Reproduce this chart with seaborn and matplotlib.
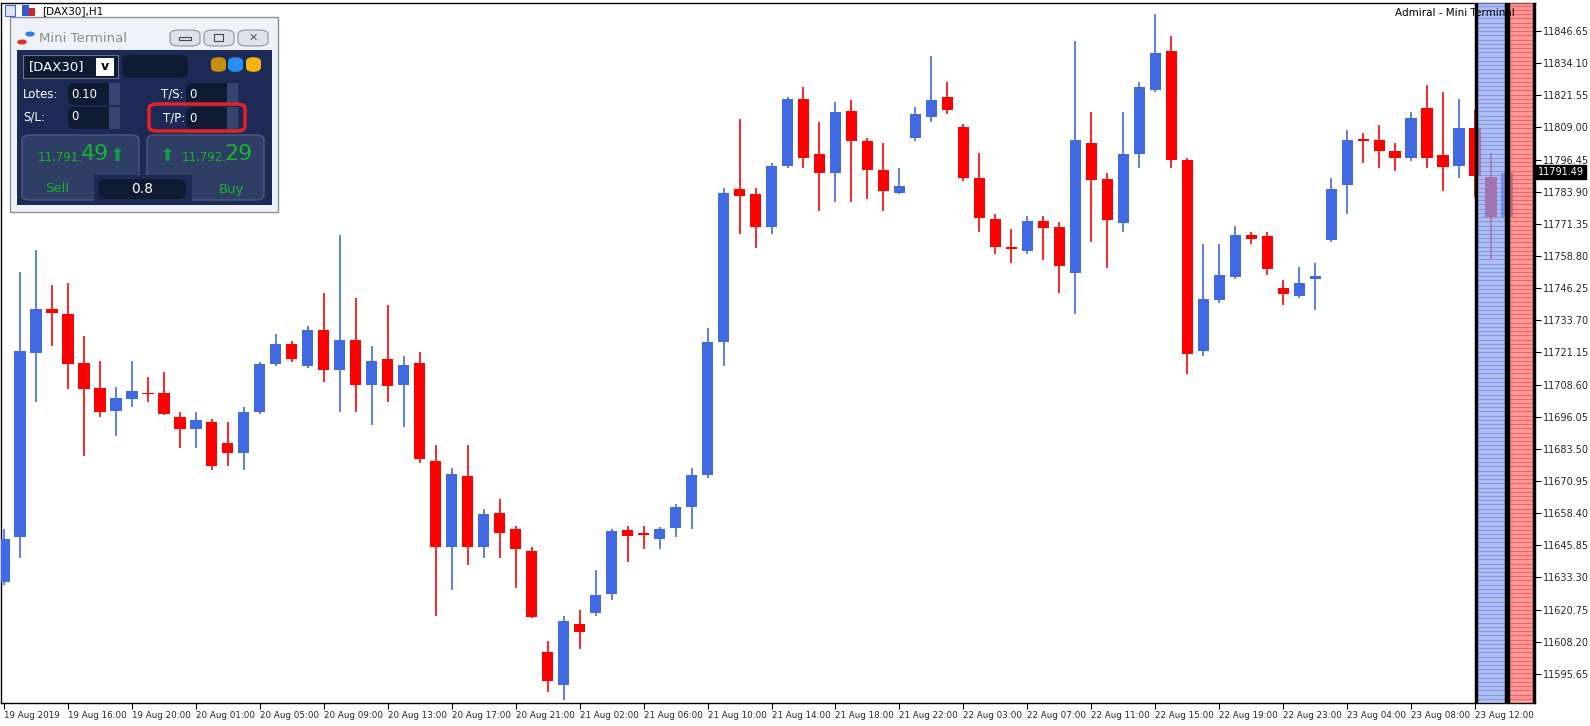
import numpy as np
import pandas as pd
import seaborn as sns
import matplotlib.pyplot as plt
from matplotlib.patches import Rectangle, FancyBboxPatch

# ----------------------------
# Data (DAX30 H1)
# ----------------------------
opens = [11631.5, 11649.0, 11720.8, 11738.3, 11736.3, 11716.9, 11707.3, 11698.2, 11703.0, 11705.4,
         11705.4, 11695.8, 11691.1, 11693.8, 11685.9, 11681.9, 11697.8, 11716.5, 11724.4, 11715.7,
         11730.0, 11714.1, 11726.0, 11708.5, 11718.5, 11708.5, 11716.9, 11678.8, 11645.0, 11672.8,
         11645.0, 11658.5, 11652.2, 11643.8, 11604.1, 11591.4, 11615.2, 11619.2, 11626.8, 11651.8,
         11650.6, 11648.2, 11652.6, 11660.9, 11673.2, 11725.2, 11784.8, 11783.2, 11770.1, 11793.9,
         11820.1, 11798.7, 11791.1, 11815.3, 11803.8, 11792.3, 11783.6, 11805.0, 11812.9, 11820.9,
         11809.0, 11789.1, 11773.2, 11762.1, 11760.9, 11772.4, 11770.1, 11752.2, 11803.0, 11788.7,
         11771.7, 11798.7, 11823.7, 11838.7, 11796.3, 11721.6, 11741.5, 11750.6, 11766.9, 11766.5,
         11746.2, 11743.1, 11749.8, 11764.9, 11786.7, 11804.2, 11804.2, 11799.8, 11797.1, 11816.5,
         11798.3, 11793.9, 11808.6, 11789.5, 11774.0]
closes = [11648.2, 11721.6, 11738.3, 11736.7, 11716.5, 11706.9, 11697.8, 11703.4, 11706.2, 11705.0,
          11697.0, 11691.1, 11694.6, 11676.8, 11681.9, 11697.8, 11716.5, 11724.4, 11718.5, 11730.0,
          11714.1, 11726.0, 11708.5, 11717.7, 11708.1, 11716.1, 11679.6, 11645.0, 11673.6, 11645.0,
          11658.1, 11650.6, 11644.2, 11618.0, 11593.0, 11616.4, 11612.1, 11626.4, 11651.4, 11649.4,
          11649.8, 11652.2, 11660.9, 11673.2, 11725.2, 11783.6, 11782.4, 11770.1, 11793.9, 11820.1,
          11797.1, 11791.1, 11814.9, 11803.8, 11792.3, 11784.0, 11786.3, 11814.1, 11819.7, 11815.7,
          11789.1, 11773.6, 11762.5, 11761.7, 11772.4, 11769.7, 11755.0, 11804.2, 11788.3, 11772.8,
          11798.7, 11824.9, 11837.9, 11796.3, 11720.4, 11741.9, 11751.4, 11766.9, 11765.3, 11753.8,
          11743.9, 11748.2, 11751.0, 11784.8, 11804.2, 11803.8, 11799.8, 11797.1, 11812.5, 11797.1,
          11793.5, 11808.6, 11789.9, 11774.0, 11791.1]
highs = [11652.2, 11752.6, 11761.3, 11747.4, 11748.2, 11727.6, 11717.7, 11707.7, 11717.7, 11711.7,
         11713.7, 11697.8, 11697.8, 11695.0, 11693.8, 11699.8, 11717.3, 11728.4, 11725.6, 11731.6,
         11744.3, 11766.9, 11742.3, 11723.6, 11739.5, 11719.7, 11721.2, 11685.1, 11676.0, 11685.1,
         11660.1, 11664.1, 11653.4, 11645.0, 11608.5, 11618.4, 11620.4, 11636.3, 11652.2, 11653.4,
         11653.4, 11653.0, 11662.1, 11676.0, 11730.8, 11785.2, 11812.2, 11785.2, 11795.1, 11820.9,
         11824.9, 11811.0, 11818.9, 11819.7, 11805.0, 11803.0, 11793.1, 11816.9, 11836.8, 11826.8,
         11810.2, 11799.0, 11775.2, 11769.3, 11774.4, 11774.4, 11772.1, 11842.7, 11814.9, 11791.1,
         11814.9, 11826.8, 11853.4, 11844.7, 11797.1, 11763.3, 11763.3, 11770.5, 11768.1, 11768.1,
         11749.4, 11754.6, 11756.2, 11789.1, 11808.2, 11807.0, 11809.8, 11803.0, 11814.9, 11825.7,
         11822.9, 11820.1, 11815.7, 11799.0, 11791.9]
lows = [11630.3, 11641.0, 11701.8, 11723.6, 11706.9, 11680.7, 11695.8, 11688.7, 11699.8, 11701.8,
        11696.6, 11683.9, 11683.9, 11675.2, 11676.8, 11675.2, 11697.0, 11715.7, 11717.3, 11714.9,
        11709.7, 11697.8, 11697.8, 11692.7, 11701.8, 11691.9, 11678.0, 11618.4, 11628.3, 11638.3,
        11641.0, 11641.0, 11629.1, 11617.6, 11588.6, 11585.5, 11605.3, 11618.4, 11624.4, 11639.5,
        11644.2, 11644.2, 11649.0, 11652.2, 11672.0, 11715.7, 11767.3, 11762.1, 11767.3, 11793.1,
        11793.1, 11776.4, 11780.0, 11780.0, 11781.2, 11776.4, 11783.2, 11803.8, 11811.0, 11814.1,
        11787.9, 11768.1, 11759.4, 11756.2, 11759.4, 11757.4, 11744.3, 11736.3, 11764.1, 11754.2,
        11768.1, 11793.1, 11822.9, 11793.1, 11712.9, 11719.7, 11740.3, 11749.8, 11763.3, 11751.4,
        11739.5, 11742.3, 11737.9, 11764.1, 11775.2, 11795.1, 11793.1, 11791.9, 11795.9, 11793.1,
        11784.0, 11789.1, 11782.0, 11757.4, 11773.2]

x_labels = ["19 Aug 2019", "19 Aug 16:00", "19 Aug 20:00", "20 Aug 01:00", "20 Aug 05:00",
            "20 Aug 09:00", "20 Aug 13:00", "20 Aug 17:00", "20 Aug 21:00", "21 Aug 02:00",
            "21 Aug 06:00", "21 Aug 10:00", "21 Aug 14:00", "21 Aug 18:00", "21 Aug 22:00",
            "22 Aug 03:00", "22 Aug 07:00", "22 Aug 11:00", "22 Aug 15:00", "22 Aug 19:00",
            "22 Aug 23:00", "23 Aug 04:00", "23 Aug 08:00", "23 Aug 12:00"]
y_ticks = [11846.65, 11834.10, 11821.55, 11809.00, 11796.45, 11783.90, 11771.35, 11758.80,
           11746.25, 11733.70, 11721.15, 11708.60, 11696.05, 11683.50, 11670.95, 11658.40,
           11645.85, 11633.30, 11620.75, 11608.20, 11595.65]
last_price = 11791.49

df = pd.DataFrame({"open": opens, "high": highs, "low": lows, "close": closes})
df["idx"] = np.arange(len(df))
df["up"] = df["close"] >= df["open"]

# ----------------------------
# Figure
# ----------------------------
W, H = 1590, 726
sns.set_theme(style="white")
plt.rcParams['font.family'] = ['DejaVu Sans']
fig = plt.figure(figsize=(W / 100, H / 100), dpi=100)
ax = fig.add_axes([1 / W, 1 - 703 / H, 1534 / W, 700 / H])
YLO, YHI = 11584.25, 11857.6

BLUE, RED = "#4169e1", "#ff0000"
colors = np.where(df["up"], BLUE, RED)
ax.vlines(df["idx"], df["low"], df["high"], colors=colors, linewidth=1.2, zorder=2)
bottoms = np.minimum(df["open"], df["close"])
heights = np.maximum(np.abs(df["close"] - df["open"]), 0.5)
ax.bar(df["idx"], heights, bottom=bottoms, width=0.7, color=colors, linewidth=0, zorder=3)

ax.set_xlim(-0.19, 95.75)
ax.set_ylim(YLO, YHI)
for s in ax.spines.values():
    s.set_color("black")
    s.set_linewidth(1)

# striped bands on the right
for x0, x1, c, sc in [(92.06, 93.92, "#8ea4ee", "#7089e0"), (94.05, 95.7, "#ff7070", "#f04c4c")]:
    ax.axvspan(x0, x1, color=c, alpha=0.7, zorder=4, lw=0)
    for yv in np.arange(YLO, YHI, 1.65):
        ax.plot([x0, x1], [yv, yv], color=sc, alpha=0.7, lw=0.8, zorder=5)
    ax.axvline(x0, color="black", lw=2.5, zorder=6)
    ax.axvline(x1, color="black", lw=2.5, zorder=6)

ax.yaxis.tick_right()
ax.set_yticks(y_ticks)
ax.set_yticklabels([f"{v:.2f}" for v in y_ticks], fontsize=7)
ax.tick_params(axis="y", length=4, width=0.8, color="black", pad=2, right=True)
ax.set_xticks(np.arange(0, 4 * len(x_labels), 4))
ax.set_xticklabels(x_labels, fontsize=6.3, ha="left")
ax.tick_params(axis="x", length=4, width=0.8, color="black", pad=2, bottom=True)
ax.text(1.002, (last_price - YLO) / (YHI - YLO), "11791.49", transform=ax.transAxes,
        fontsize=7, color="white", va="center", ha="left",
        bbox=dict(boxstyle="square,pad=0.2", fc="black", ec="black"))


# ----------------------------
# Overlay helpers (figure pixels, top-left origin)
# ----------------------------
def rect(x, y, w, h, fc, ec="none", lw=0, rounded=False, z=10):
    if rounded:
        p = FancyBboxPatch((x / W, 1 - (y + h) / H), w / W, h / H, boxstyle="round,pad=0,rounding_size=0.006",
                           transform=fig.transFigure, fc=fc, ec=ec, lw=lw, zorder=z)
    else:
        p = Rectangle((x / W, 1 - (y + h) / H), w / W, h / H, transform=fig.transFigure,
                      fc=fc, ec=ec, lw=lw, zorder=z)
    fig.add_artist(p)


def txt(x, y, s, size=8.5, color="white", ha="left", **kw):
    fig.text(x / W, 1 - y / H, s, fontsize=size, color=color, ha=ha, va="center", zorder=20, **kw)


txt(42, 11, "[DAX30],H1", size=7.5, color="black")
rect(5, 5, 10, 11, "#dfe6f2", ec="#3a66c4", lw=0.8)
rect(22, 5, 7, 11, "#2f5bd0")
rect(29, 8, 6, 8, "#d02525")
txt(1515, 13, "Admiral - Mini Terminal", size=7.5, color="black", ha="right")

# mini terminal
GREEN = "#18b32b"
DARK = "#0f1a33"
rect(10, 17, 268, 195, "#eef2f8", ec="#8a8f99", lw=1)
rect(17, 50, 255, 155, "#1c2a55")
fig.add_artist(plt.Circle((22 / W, 1 - 42 / H), 4 / W, transform=fig.transFigure, color="#e52b2b", zorder=11))
fig.add_artist(plt.Circle((30 / W, 1 - 34 / H), 4 / W, transform=fig.transFigure, color="#2a7cf0", zorder=11))
txt(39, 38, "Mini Terminal", size=9.5, color="#8c8c8c")
for bx in [170, 204, 238]:
    rect(bx, 30, 30, 16, "#dde2ea", ec="#8d939c", lw=0.8, rounded=True)
rect(179, 37, 12, 3, "none", ec="#444444", lw=0.8)
rect(214, 34, 9, 7, "none", ec="#444444", lw=0.8)
txt(253, 38, "✕", size=8, color="#555555", ha="center")

rect(23, 55, 95, 23, DARK, ec="#6c7387", lw=0.8)
txt(29, 67, "[DAX30]", size=9.5)
rect(96, 58, 18, 18, "white")
txt(105, 67, "v", size=9, color="black", ha="center", fontweight="bold")
rect(122, 55, 66, 23, DARK, rounded=True)
for ix, c in [(211, "#c8900f"), (228, "#2a8df0"), (246, "#f5b316")]:
    rect(ix, 57, 15, 15, c, rounded=True)

for lx, ly, lab, bx, val in [(23, 94, "Lotes:", 68, "0.10"), (161, 94, "T/S:", 186, "0"),
                             (23, 117, "S/L:", 68, "0"), (163, 118, "T/P:", 186, "0")]:
    txt(lx, ly, lab, size=8.5)
    rect(bx, 83 if ly < 110 else 107, 52, 22, DARK, rounded=True)
    rect(bx + 41, 83 if ly < 110 else 107, 11, 22, "#34466e")
    txt(bx + 3, ly, val, size=8.5)
rect(149, 104, 96, 27, "none", ec="#e8202a", lw=2.5, rounded=True, z=15)

rect(22, 135, 117, 65, "#2e3e65", ec="#4a5a80", lw=1, rounded=True)
rect(147, 135, 117, 65, "#2e3e65", ec="#4a5a80", lw=1, rounded=True)
txt(38, 157, "11,791.", size=8.5, color=GREEN)
txt(81, 154, "49", size=16, color=GREEN)
txt(117, 156, "⬆", size=13, color="#129a4d", ha="center")
txt(167, 156, "⬆", size=13, color="#129a4d", ha="center")
txt(182, 157, "11,792.", size=8.5, color=GREEN)
txt(224, 154, "29", size=16, color=GREEN)
rect(94, 175, 98, 27, "#1c2a55")
rect(98, 179, 88, 20, DARK, rounded=True)
txt(142, 189, "0.8", size=10, ha="center")
txt(57, 189, "Sell", size=9.5, color=GREEN, ha="center")
txt(232, 189, "Buy", size=9.5, color=GREEN, ha="center")

fig.savefig("out.png", dpi=100)
